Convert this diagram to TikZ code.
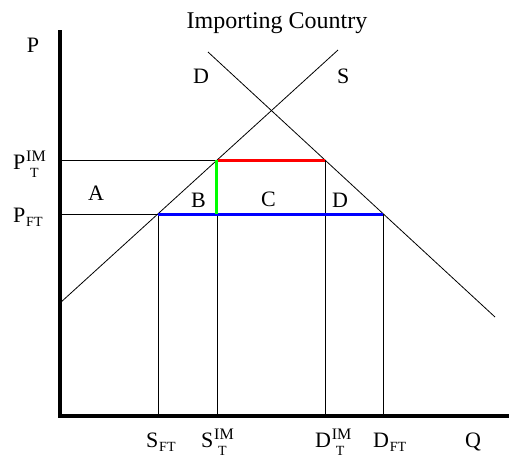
\documentclass[tikz,border=0pt]{standalone}
\usepackage{fontspec}
\setmainfont{Liberation Serif}
\newcommand\suptxt{\fontsize{16}{16}\selectfont}
\newcommand\subtxt{\fontsize{14}{14}\selectfont}
\newcommand\supsub[3]{#1\kern1pt\rlap{\raisebox{7.5pt}{\suptxt #2}}\raisebox{-8pt}{\subtxt\kern4pt #3}}
\newcommand\subonly[2]{#1\kern1pt\raisebox{-4.5pt}{\subtxt #2}}
\begin{document}
\begin{tikzpicture}[x=1pt,y=-1pt,
  thinline/.style={draw=black,line width=0.8pt},
  axisline/.style={draw=black,line width=4.6pt},
  tradeline/.style={line width=3pt},
  lbl/.style={inner sep=0pt,outer sep=0pt,anchor=base west,font=\fontsize{22}{24}\selectfont},
  ttl/.style={inner sep=0pt,anchor=base,font=\fontsize{24}{26}\selectfont}]
\useasboundingbox (0,0) rectangle (509,459);
% key points
\coordinate (Ytop) at (60,30);
\coordinate (O) at (60,416);
\coordinate (Xend) at (509,416);
\coordinate (S0) at (60,303);
\coordinate (S1) at (338,50);
\coordinate (D0) at (208,52);
\coordinate (D1) at (495,317);
\coordinate (pT) at (60,160);
\coordinate (pF) at (60,214);
\coordinate (sT) at (217.5,160);
\coordinate (dT) at (325,160);
\coordinate (sF) at (158,214);
\coordinate (dF) at (383,214);
\coordinate (sFa) at (158,416);
\coordinate (sTa) at (217.5,416);
\coordinate (dTa) at (325,416);
\coordinate (dFa) at (383,416);
\coordinate (sTm) at (217.5,214);
% curves
\draw[thinline] (S0) -- (S1);
\draw[thinline] (D0) -- (D1);
% price lines
\draw[thinline] (pT) -- (sT);
\draw[thinline] (pF) -- (sF);
% verticals
\draw[thinline] (sF) -- (sFa);
\draw[thinline] (sTm) -- (sTa);
\draw[thinline] (dT) -- (dTa);
\draw[thinline] (dF) -- (dFa);
% coloured segments
\draw[tradeline,red] (sT) -- (dT);
\draw[tradeline,blue] (sF) -- (dF);
\draw[tradeline,green] ([xshift=-1.5pt]sT) -- ([xshift=-1.5pt]sTm);
% axes
\draw[axisline] (Ytop) -- (O) -- (Xend);
% labels
\node[ttl] (title) at (277,28) {Importing Country};
\node[lbl] (Plab) at (27,52) {P};
\node[lbl] (Qlab) at (465,447) {Q};
\node[lbl] (Dcurve) at (193,83) {D};
\node[lbl] (Scurve) at (337,83) {S};
\node[lbl] (PT) at (13,169) {\supsub{P}{IM}{T}};
\node[lbl] (PF) at (13,222) {\subonly{P}{FT}};
\node[lbl] (A) at (88,200) {A};
\node[lbl] (B) at (191,207) {B};
\node[lbl] (C) at (261,206) {C};
\node[lbl] (Darea) at (332,207) {D};
\node[lbl] (SF) at (146,447) {\subonly{S}{FT}};
\node[lbl] (ST) at (201,447) {\supsub{S}{IM}{T}};
\node[lbl] (DT) at (315,447) {\supsub{D}{IM}{T}};
\node[lbl] (DF) at (373,447) {\subonly{D}{FT}};
\end{tikzpicture}
\end{document}
